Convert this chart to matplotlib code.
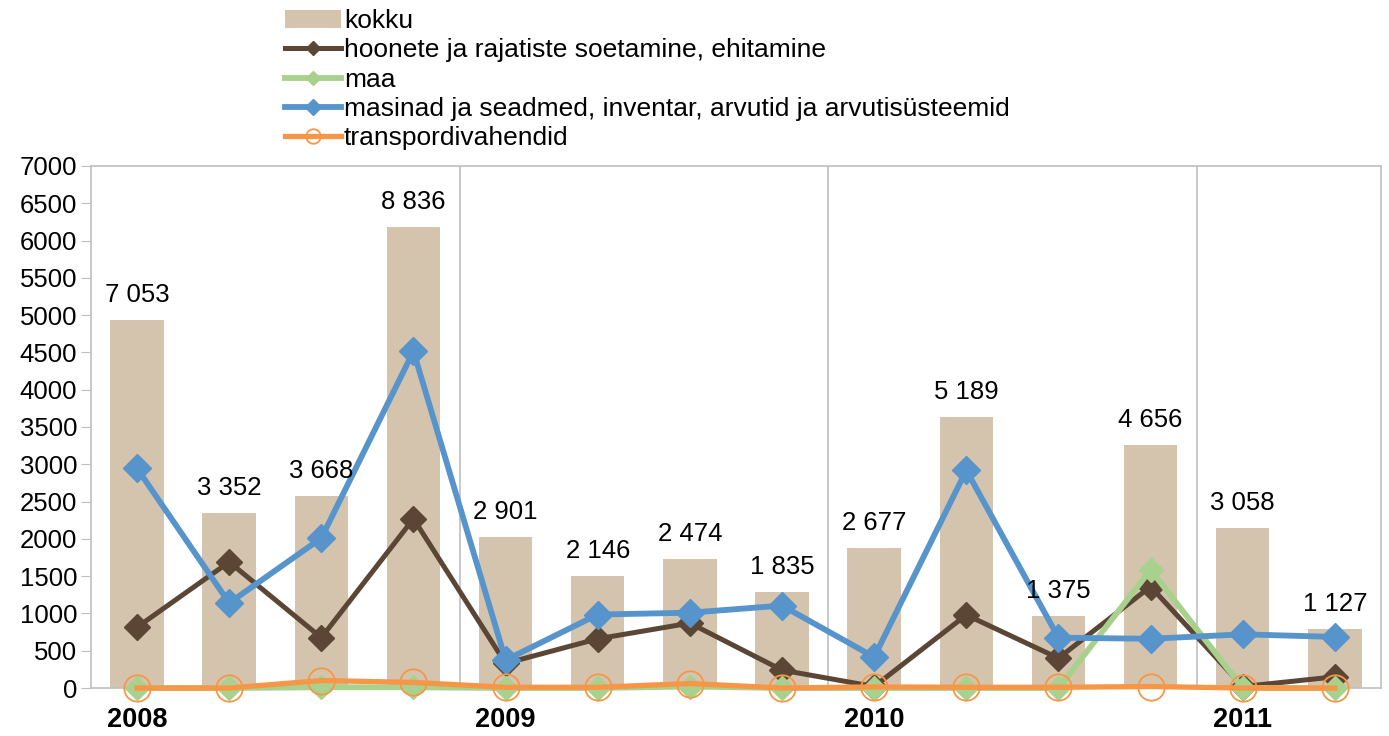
import matplotlib.pyplot as plt
import numpy as np

plt.rcParams['font.family'] = ['Liberation Sans', 'DejaVu Sans']

# categories (quarters), only the first of each year carries a label
years = ['2008', '2009', '2010', '2011']
n_cat = 14

# kokku: bar heights as drawn, and the totals printed above the bars
kokku_bars = [4937, 2346, 2568, 6185, 2031, 1502, 1732, 1285, 1874, 3632, 963, 3259, 2141, 789]
kokku_labels = [7053, 3352, 3668, 8836, 2901, 2146, 2474, 1835, 2677, 5189, 1375, 4656, 3058, 1127]

hoonete = [815, 1690, 675, 2270, 330, 660, 870, 240, 20, 980, 400, 1360, 20, 150]
maa = [0, 0, 10, 10, 0, 0, 20, 0, 0, 0, 0, 1585, 0, 0]
masinad = [2945, 1140, 2010, 4515, 375, 985, 1010, 1105, 415, 2920, 675, 660, 720, 685]
transport = [0, 0, 100, 75, 10, 10, 60, 0, 15, 10, 10, 20, 0, 0]

c_bar = '#D4C4AE'
c_brown = '#5B4636'
c_green = '#A9D18E'
c_blue = '#5694CB'
c_orange = '#F79646'
c_grid = '#BFBFBF'

fig = plt.figure(figsize=(13.89, 7.36), dpi=100)
ax = fig.add_axes([0.0655, 0.0652, 0.9287, 0.7093])

x = np.arange(n_cat)
ax.bar(x, kokku_bars, width=0.58, color=c_bar, label='kokku', zorder=2)

ax.plot(x, hoonete, color=c_brown, lw=3.6, marker='D', ms=13.5, clip_on=False,
        label='hoonete ja rajatiste soetamine, ehitamine', zorder=3)
ax.plot(x, maa, color=c_green, lw=4.2, marker='D', ms=12.5, clip_on=False,
        label='maa', zorder=4)
ax.plot(x, masinad, color=c_blue, lw=4.2, marker='D', ms=14, clip_on=False,
        label='masinad ja seadmed, inventar, arvutid ja arvutisüsteemid', zorder=5)
ax.plot(x, transport, color=c_orange, lw=3.8, marker='o', ms=19, mfc='none',
        mec=c_orange, mew=1.3, clip_on=False, label='transpordivahendid', zorder=6)

for xi, h, v in zip(x, kokku_bars, kokku_labels):
    txt = f'{v:,}'.replace(',', ' ')
    ax.annotate(txt, (xi, h), xytext=(0, 18), textcoords='offset points',
                ha='center', va='center', fontsize=18.5, zorder=7)

ax.set_xlim(-0.5, n_cat - 0.5)
ax.set_ylim(0, 7000)
ax.set_yticks(np.arange(0, 7001, 500))
ax.set_xticks([0, 4, 8, 12])
ax.set_xticklabels(years, fontweight='bold', fontsize=19.5)
ax.set_xticks([3.5, 7.5, 11.5], minor=True)
ax.tick_params(axis='x', which='both', length=0, pad=14)
ax.tick_params(axis='y', labelsize=18.5, length=7, color=c_grid, pad=3)
ax.grid(axis='x', which='minor', color=c_grid, lw=1.2, zorder=1)
for s in ax.spines.values():
    s.set_color(c_grid)
    s.set_linewidth(1.2)

handles, labels = ax.get_legend_handles_labels()
order = [4, 0, 1, 2, 3]
fig.legend([handles[i] for i in order], [labels[i] for i in order],
           loc='upper left', bbox_to_anchor=(0.194, 1.009), frameon=False,
           fontsize=19, handlelength=2.1, handletextpad=0.12,
           labelspacing=0.2, markerscale=0.55, borderaxespad=0.2)

fig.savefig('out.png', dpi=100)
